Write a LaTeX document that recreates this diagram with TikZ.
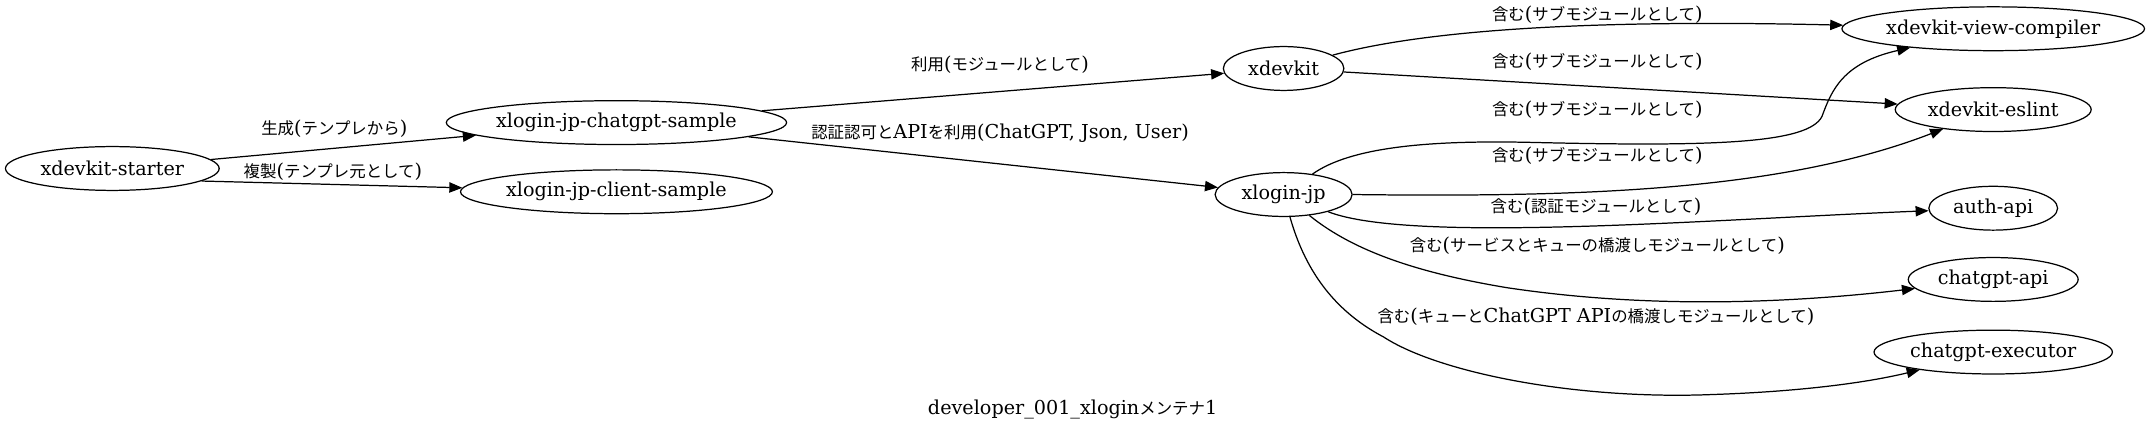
\documentclass[tikz,border=0pt]{standalone}
\usepackage{fontspec}
\setmainfont{DejaVu Serif}
\newfontfamily\cjk{Noto Sans CJK JP}
\usetikzlibrary{shapes.geometric,arrows.meta}
\newcommand\J[1]{{\cjk\fontsize{12}{14}\selectfont #1}}
\begin{document}
\begin{tikzpicture}[x=1pt,y=-1pt,
  nd/.style={draw,ellipse,line width=0.9pt,inner sep=0pt,minimum height=32pt,font=\fontsize{14}{16}\selectfont},
  lbl/.style={inner sep=0pt,font=\fontsize{14}{16}\selectfont},
  edge/.style={draw,line width=0.9pt,-{Triangle[length=9.5pt,width=7.5pt]}}]
\useasboundingbox (0,0) rectangle (1568,315);
\fill[white] (0,0) rectangle (1568,315);
% nodes
\node[nd,minimum width=156pt] (starter) at (82,123) {xdevkit-starter};
\node[nd,minimum width=245pt] (chatsample) at (450,89.5) {xlogin-jp-chatgpt-sample};
\node[nd,minimum width=225pt] (client) at (450,140) {xlogin-jp-client-sample};
\node[nd,minimum width=88pt] (xdevkit) at (937,50) {xdevkit};
\node[nd,minimum width=100pt] (xlogin) at (937,142) {xlogin-jp};
\node[nd,minimum width=219pt] (viewcomp) at (1455,21) {xdevkit-view-compiler};
\node[nd,minimum width=143pt] (eslint) at (1455,80) {xdevkit-eslint};
\node[nd,minimum width=94pt] (auth) at (1455,152) {auth-api};
\node[nd,minimum width=124pt] (chatapi) at (1455,204) {chatgpt-api};
\node[nd,minimum width=174pt] (executor) at (1455,257) {chatgpt-executor};
% edges
\draw[edge] (starter) -- (chatsample);
\draw[edge] (starter.-8) -- (client);
\draw[edge] (chatsample) -- (xdevkit);
\draw[edge] (chatsample) -- (xlogin);
\draw[edge] (xdevkit) .. controls (1040,22) and (1160,14) .. (viewcomp);
\draw[edge] (xdevkit) -- (eslint);
\draw[edge] (xlogin) .. controls (985,108) and (1040,102) .. (1120,104)
   .. controls (1250,107) and (1320,105) .. (1330,85)
   .. controls (1337,66) and (1345,46) .. (viewcomp);
\draw[edge] (xlogin.east) .. controls (1150,144) and (1300,140) .. (eslint);
\draw[edge] (xlogin) .. controls (1030,178) and (1250,160) .. (auth);
\draw[edge] (xlogin) .. controls (990,185) and (1040,200) .. (1100,210)
   .. controls (1200,225) and (1300,222) .. (chatapi);
\draw[edge] (xlogin) .. controls (952,195) and (972,226) .. (1010,246)
   .. controls (1050,272) and (1150,292) .. (1250,288)
   .. controls (1310,286) and (1360,280) .. (executor);
% labels
\node[lbl] (l1) at (244,94) {\J{生成}(\J{テンプレから})};
\node[lbl] (l2) at (243,125) {\J{複製}(\J{テンプレ元として})};
\node[lbl] (l3) at (730,47) {\J{利用}(\J{モジュールとして})};
\node[lbl] (l4) at (730,97) {\J{認証認可と}API\J{を利用}(ChatGPT, Json, User)};
\node[lbl] (l5) at (1166,11) {\J{含む}(\J{サブモジュールとして})};
\node[lbl] (l6) at (1166,45) {\J{含む}(\J{サブモジュールとして})};
\node[lbl] (l7) at (1166,80) {\J{含む}(\J{サブモジュールとして})};
\node[lbl] (l8) at (1166,114) {\J{含む}(\J{サブモジュールとして})};
\node[lbl] (l9) at (1165,151) {\J{含む}(\J{認証モジュールとして})};
\node[lbl] (l10) at (1166,179) {\J{含む}(\J{サービスとキューの橋渡しモジュールとして})};
\node[lbl] (l11) at (1165,231) {\J{含む}(\J{キューと}ChatGPT API\J{の橋渡しモジュールとして})};
\node[lbl] (title) at (783,299) {developer\_001\_xlogin\J{メンテナ}1};
\end{tikzpicture}
\end{document}
